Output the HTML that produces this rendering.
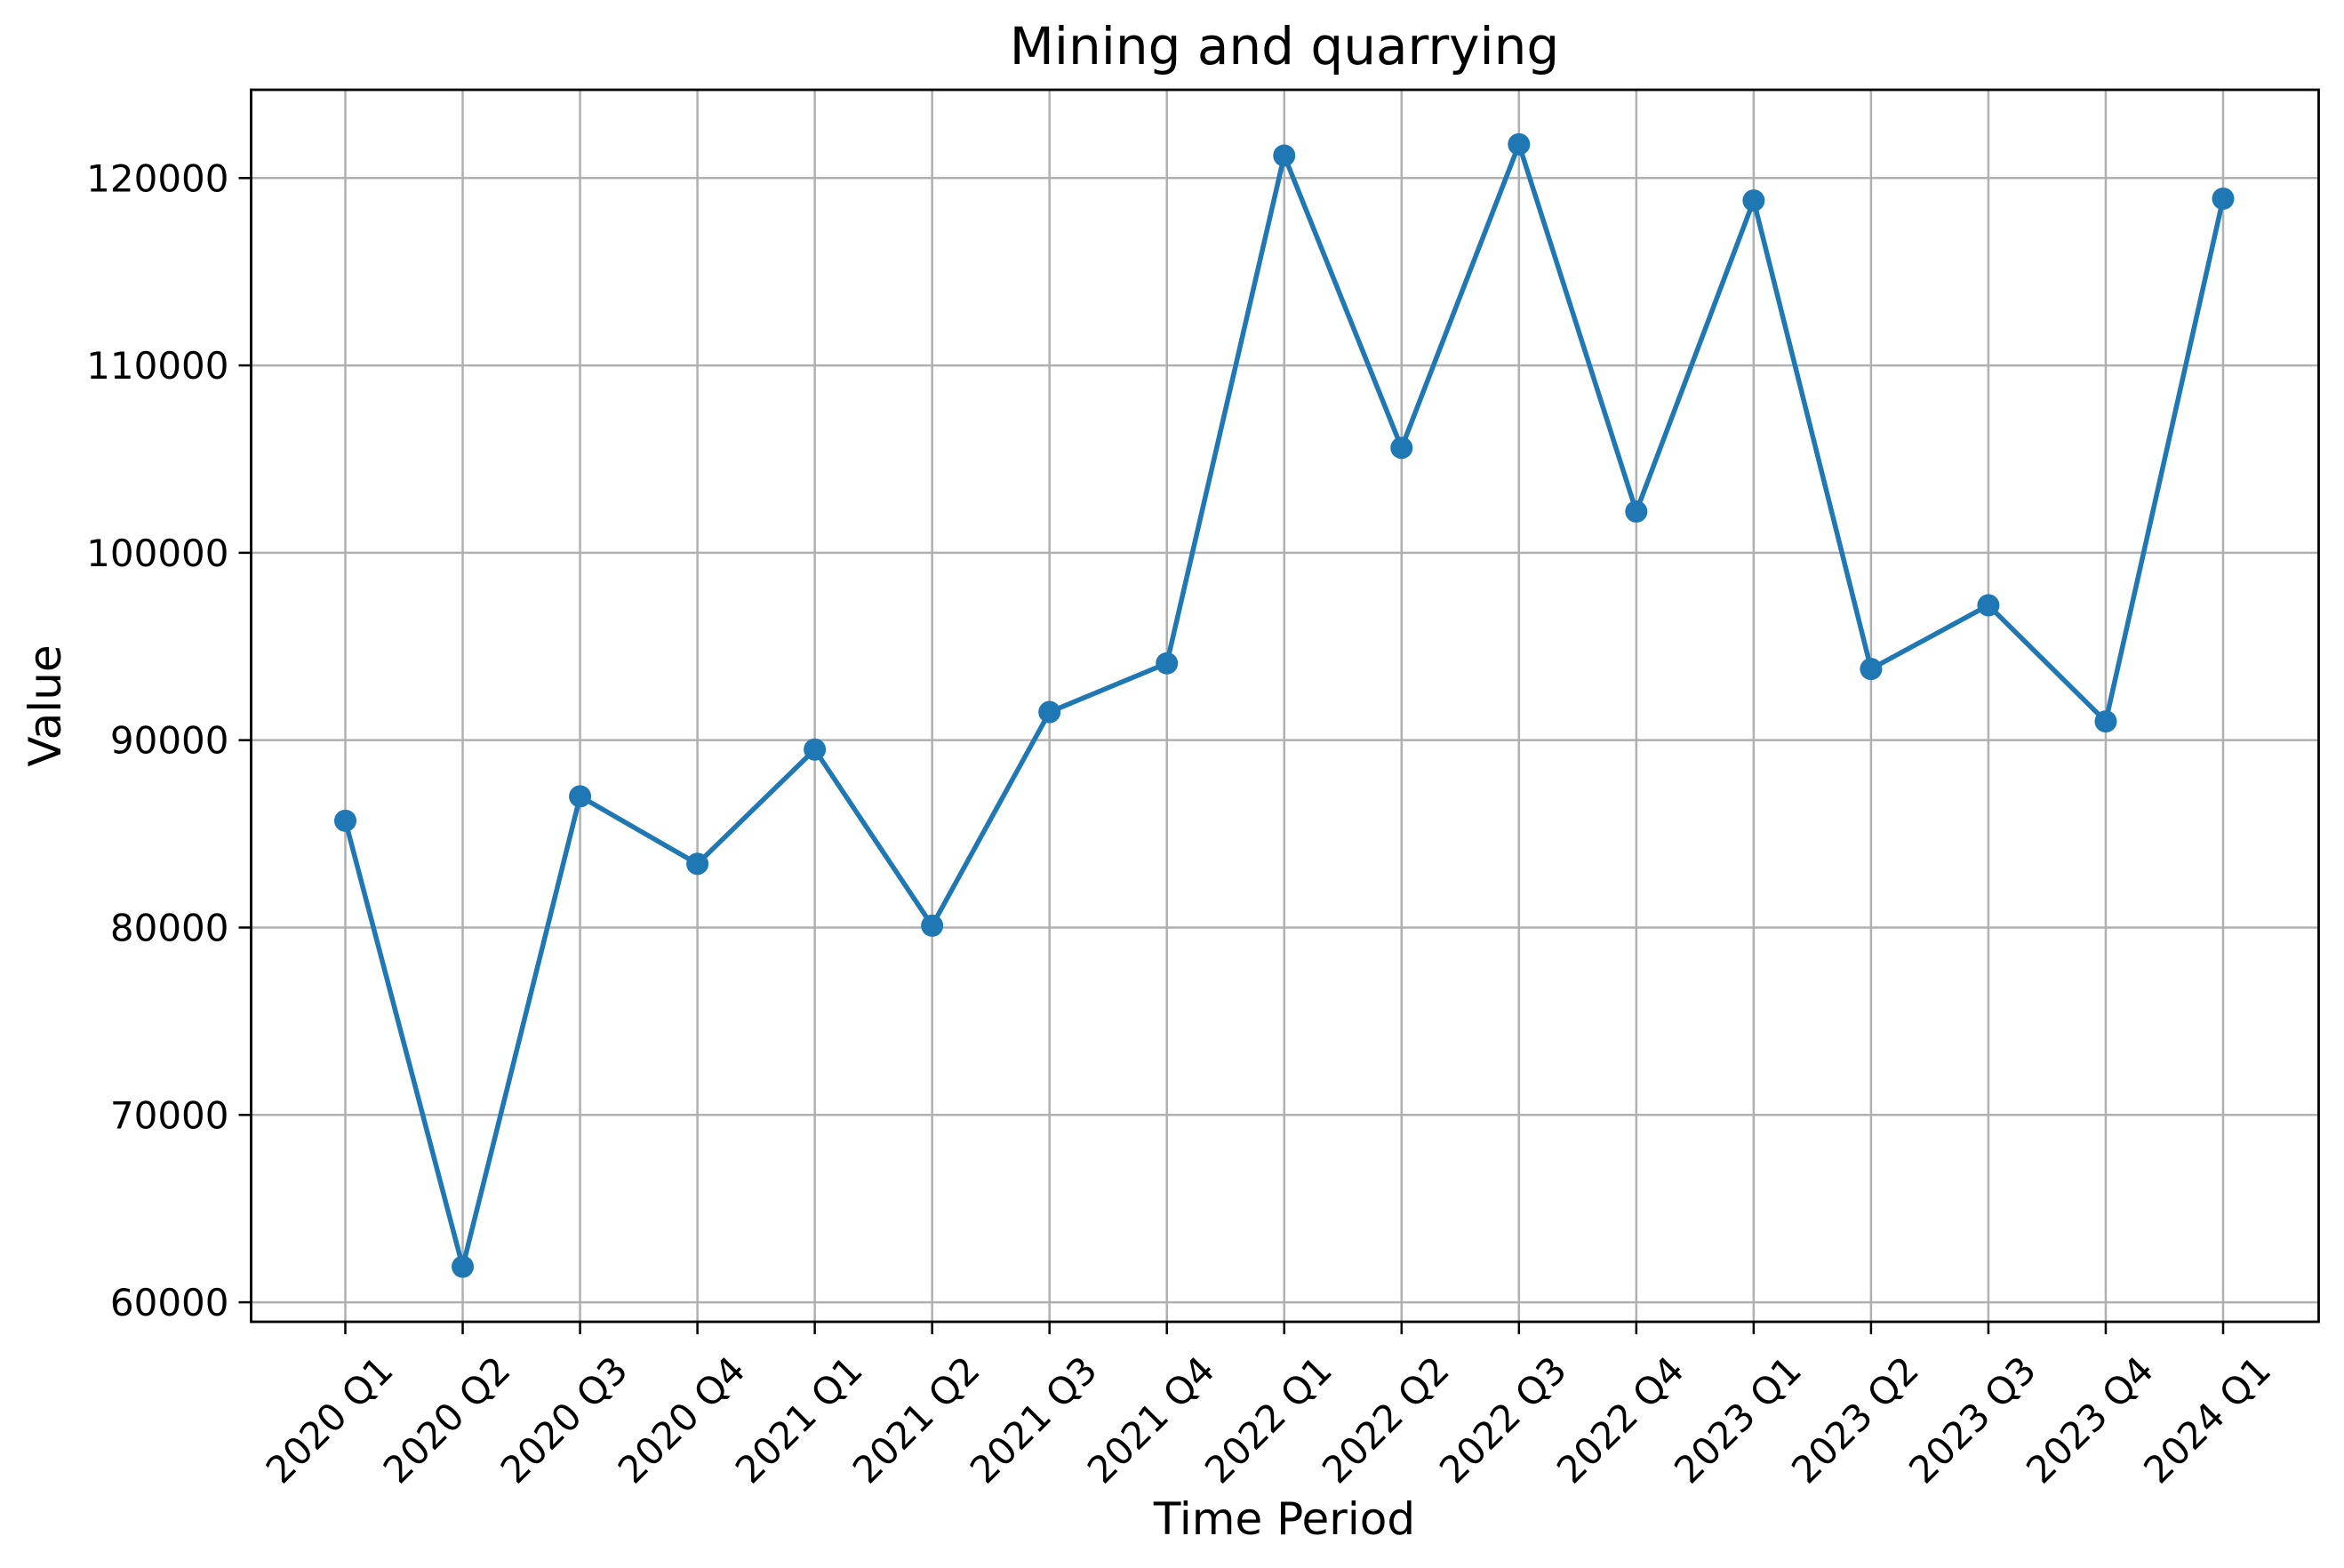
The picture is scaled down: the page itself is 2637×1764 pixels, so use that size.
<!DOCTYPE html>
<html><head><meta charset="utf-8"><style>
html,body{margin:0;padding:0;background:#fff;}
svg{display:block;font-family:"DejaVu Sans","Liberation Sans",sans-serif;}
</style></head><body>
<svg id="chart" width="2637" height="1764" viewBox="0 0 2637 1764" xmlns="http://www.w3.org/2000/svg">
<rect width="2637" height="1764" fill="#fff"/>
<g id="grid"></g>
<g id="series"></g>
<rect x="282.5" y="101" width="2326" height="1386" fill="none" stroke="#000" stroke-width="2.8"/>
<g id="xticks"></g>
<g id="yticks"></g>
<text x="1445" y="72" font-size="58" text-anchor="middle">Mining and quarrying</text>
<text x="1445" y="1726" font-size="50" text-anchor="middle">Time Period</text>
<text x="0" y="0" font-size="50" text-anchor="middle" transform="translate(68,794) rotate(-90)">Value</text>
</svg>
<script>
const categories = ["2020 Q1","2020 Q2","2020 Q3","2020 Q4","2021 Q1","2021 Q2","2021 Q3","2021 Q4","2022 Q1","2022 Q2","2022 Q3","2022 Q4","2023 Q1","2023 Q2","2023 Q3","2023 Q4","2024 Q1"];
const values = [85700,61900,87000,83400,89500,80100,91500,94100,121200,105600,121800,102200,118800,93800,97200,91000,118900];
const yTicks = [60000,70000,80000,90000,100000,110000,120000];
const yTickLabels = ["60000","70000","80000","90000","100000","110000","120000"];

const NS="http://www.w3.org/2000/svg";
const L=282.5,R=2608.5,T=101,B=1487;
const yMin=58960,yMax=124710;
const x0=388.5,dx=(2501-388.5)/16;
function xs(i){return x0+i*dx;}
function ys(v){return B-(v-yMin)/(yMax-yMin)*(B-T);}
function mk(tag,attrs,parent){const e=document.createElementNS(NS,tag);for(const k in attrs)e.setAttribute(k,attrs[k]);parent.appendChild(e);return e;}
const grid=document.getElementById('grid'),xt=document.getElementById('xticks'),yt=document.getElementById('yticks'),ser=document.getElementById('series');
categories.forEach((c,i)=>{
  const x=xs(i);
  const g=mk('line',{x1:x,x2:x,y1:T,y2:B,stroke:'#b0b0b0','stroke-width':2.5},grid);
  
  
  const t=mk('line',{x1:x,x2:x,y1:B,y2:B+14,stroke:'#000','stroke-width':2.5},xt);
  
  
  const lb=mk('text',{'font-size':42,'text-anchor':'end',transform:`translate(${x+56},${B+57}) rotate(-45)`},xt);
  lb.textContent=c;
  
  
});
yTicks.forEach((v,i)=>{
  const y=ys(v);
  const g=mk('line',{x1:L,x2:R,y1:y,y2:y,stroke:'#b0b0b0','stroke-width':2.5},grid);
  
  
  const t=mk('line',{x1:L-14,x2:L,y1:y,y2:y,stroke:'#000','stroke-width':2.5},yt);
  
  
  const lb=mk('text',{x:L-25,y:y+15,'font-size':42,'text-anchor':'end'},yt);
  lb.textContent=yTickLabels[i];
  
  
});
const pts=values.map((v,i)=>xs(i)+','+ys(v)).join(' ');
const pl=mk('polyline',{points:pts,fill:'none',stroke:'#1f77b4','stroke-width':5.5,'stroke-linejoin':'round'},ser);


values.forEach((v,i)=>{
  const c=mk('circle',{cx:xs(i),cy:ys(v),r:12.5,fill:'#1f77b4'},ser);
  
  
});
</script>
</body></html>
